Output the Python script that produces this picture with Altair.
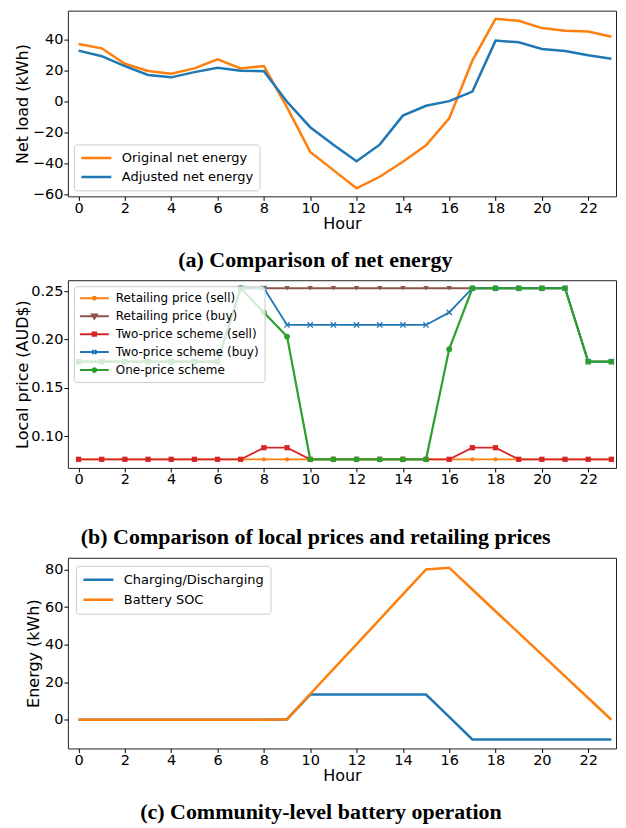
import altair as alt
import pandas as pd

# ---------------- data ----------------
hours = list(range(24))

net_names = ["Original net energy", "Adjusted net energy"]
original_net = [37.2, 34.4, 24.4, 19.7, 18.0, 21.4, 27.2, 21.4, 22.9, -3.9, -32.7, -44.5,
                -56.3, -48.8, -39.1, -28.4, -10.9, 26.5, 53.5, 52.2, 47.5, 45.8, 45.3, 41.9]
adjusted_net = [32.9, 29.3, 22.9, 17.1, 15.6, 19.0, 21.8, 19.9, 19.5, -0.2, -16.7, -28.0,
                -38.7, -28.0, -9.2, -2.8, 0.2, 6.4, 39.4, 38.3, 34.0, 32.7, 29.9, 27.6]

price_names = ["Retailing price (sell)", "Retailing price (buy)", "Two-price scheme (sell)",
               "Two-price scheme (buy)", "One-price scheme"]
retail_sell = [0.076, 0.076, 0.076, 0.076, 0.076, 0.076, 0.076, 0.076, 0.076, 0.076, 0.076, 0.076,
               0.076, 0.076, 0.076, 0.076, 0.076, 0.076, 0.076, 0.076, 0.076, 0.076, 0.076, 0.076]
retail_buy = [0.177, 0.177, 0.177, 0.177, 0.177, 0.177, 0.177, 0.253, 0.253, 0.253, 0.253, 0.253,
              0.253, 0.253, 0.253, 0.253, 0.253, 0.253, 0.253, 0.253, 0.253, 0.253, 0.177, 0.177]
two_sell = [0.076, 0.076, 0.076, 0.076, 0.076, 0.076, 0.076, 0.076, 0.088, 0.088, 0.076, 0.076,
            0.076, 0.076, 0.076, 0.076, 0.076, 0.088, 0.088, 0.076, 0.076, 0.076, 0.076, 0.076]
two_buy = [0.177, 0.177, 0.177, 0.177, 0.177, 0.177, 0.177, 0.253, 0.253, 0.215, 0.215, 0.215,
           0.215, 0.215, 0.215, 0.215, 0.228, 0.253, 0.253, 0.253, 0.253, 0.253, 0.177, 0.177]
one_price = [0.177, 0.177, 0.177, 0.177, 0.177, 0.177, 0.177, 0.253, 0.228, 0.203, 0.076, 0.076,
             0.076, 0.076, 0.076, 0.076, 0.190, 0.253, 0.253, 0.253, 0.253, 0.253, 0.177, 0.177]

bat_names = ["Charging/Discharging", "Battery SOC"]
charging = [0.0, 0.0, 0.0, 0.0, 0.0, 0.0, 0.0, 0.0, 0.0, 0.3, 13.4, 13.4,
            13.4, 13.4, 13.4, 13.4, 1.5, -10.5, -10.5, -10.5, -10.5, -10.5, -10.5, -10.5]
soc = [0.0, 0.0, 0.0, 0.0, 0.0, 0.0, 0.0, 0.0, 0.0, 0.3, 13.7, 27.0,
       40.2, 53.5, 66.8, 80.1, 81.0, 69.4, 57.8, 46.3, 34.7, 23.1, 11.6, 0.0]

x_tick_values = [0, 2, 4, 6, 8, 10, 12, 14, 16, 18, 20, 22]
y_ticks_a = [-60, -40, -20, 0, 20, 40]
y_ticks_b = [0.10, 0.15, 0.20, 0.25]
y_ticks_c = [0, 20, 40, 60, 80]

# ---------------- style ----------------
ORANGE, BLUE, GREEN, RED, BROWN = "#ff7f0e", "#1f77b4", "#2ca02c", "#d62728", "#8c564b"
price_colors = [ORANGE, BROWN, RED, BLUE, GREEN]
point_shapes = ["circle", "triangle-down", "square", "M-1,-1L1,1M-1,1L1,-1", "circle"]
point_sizes = [18, 28, 28, 28, 34]
legend_shapes = [
    "M-1,0H1M0.1,0A0.1,0.1,0,1,1,-0.1,0A0.1,0.1,0,1,1,0.1,0Z",
    "M-1,0H1M-0.17,-0.12L0.17,-0.12L0,0.16Z",
    "M-1,0H1M-0.12,-0.12H0.12V0.12H-0.12Z",
    "M-1,0H1M-0.14,-0.14L0.14,0.14M-0.14,0.14L0.14,-0.14",
    "M-1,0H1M0.13,0A0.13,0.13,0,1,1,-0.13,0A0.13,0.13,0,1,1,0.13,0Z",
]

X_DOMAIN = [-0.46, 23.2]
FONT = "DejaVu Sans"
TITLE_FONT = "Liberation Serif"
PANEL_W = 549


def x_enc(title, **kw):
    return alt.X("hour:Q", scale=alt.Scale(domain=X_DOMAIN, nice=False, zero=False),
                 axis=alt.Axis(values=x_tick_values, title=title, format="d", **kw))


def legend(orient, offset, font_size, clip, extra=None):
    params = dict(title=None, orient=orient, offset=offset, fillColor="rgba(255,255,255,0.8)",
                  strokeColor="#cccccc", cornerRadius=3, padding=6, symbolSize=900,
                  labelFontSize=font_size, labelFont=FONT, labelColor="black", labelOffset=9,
                  clipHeight=clip, rowPadding=4)
    if extra:
        params.update(extra)
    return alt.Legend(**params)


def panel_title(text, offset):
    return alt.TitleParams(text=text, orient="bottom", anchor="middle", frame="bounds",
                           font=TITLE_FONT, fontWeight="bold", fontSize=22, color="black",
                           offset=offset)


# ---------------- panel (a) ----------------
df_a = pd.DataFrame({
    "hour": hours + hours,
    "value": original_net + adjusted_net,
    "series": [net_names[0]] * 24 + [net_names[1]] * 24,
})
chart_a = alt.Chart(df_a).mark_line(strokeWidth=2.5).encode(
    x=x_enc("Hour"),
    y=alt.Y("value:Q", scale=alt.Scale(domain=[-61.5, 58.8], nice=False, zero=False),
            axis=alt.Axis(values=y_ticks_a, title="Net load (kWh)", format="d", titlePadding=2)),
    color=alt.Color("series:N", scale=alt.Scale(domain=net_names, range=[ORANGE, BLUE]),
                    legend=legend("bottom-left", 6, 13, 15,
                                  dict(symbolType="stroke", symbolStrokeWidth=2.5))),
).properties(width=PANEL_W, height=186, title=panel_title("(a) Comparison of net energy", 18))

# ---------------- panel (b) ----------------
price_series = [retail_sell, retail_buy, two_sell, two_buy, one_price]
rows = []
for name, vals in zip(price_names, price_series):
    for h, v in zip(hours, vals):
        rows.append({"hour": h, "value": v, "series": name})
df_b = pd.DataFrame(rows)

y_b = alt.Y("value:Q", scale=alt.Scale(domain=[0.0671, 0.2613], nice=False, zero=False),
            axis=alt.Axis(values=y_ticks_b, title="Local price (AUD$)", format=".2f",
                          titlePadding=0))

layers_b = []
for i, name in enumerate(price_names):
    base = alt.Chart(df_b).transform_filter(alt.datum.series == name)
    lw = 2.2 if i == 4 else 1.8
    col = price_colors[i]
    layers_b.append(base.mark_line(strokeWidth=lw, color=col).encode(x=x_enc(None), y=y_b))
    is_x = i == 3
    layers_b.append(base.mark_point(filled=not is_x, shape=point_shapes[i], size=point_sizes[i],
                                    color=col, strokeWidth=1.3 if is_x else 0, opacity=1).encode(
        x=x_enc(None), y=y_b))

leg_b = legend("top-left", 6, 12, 14, dict(symbolStrokeWidth=2, symbolFillColor="transparent",
                                             symbolOpacity=1, symbolSize=841, padding=5,
                                             labelOffset=6))
legend_layer = alt.Chart(df_b).mark_point(filled=False, strokeWidth=2, opacity=0).encode(
    x=x_enc(None), y=y_b,
    color=alt.Color("series:N", scale=alt.Scale(domain=price_names, range=price_colors),
                    legend=leg_b),
    shape=alt.Shape("series:N", scale=alt.Scale(domain=price_names, range=legend_shapes),
                    legend=leg_b),
)
layers_b.append(legend_layer)
chart_b = alt.layer(*layers_b).properties(
    width=PANEL_W, height=188,
    title=panel_title("(b) Comparison of local prices and retailing prices", 41))

# ---------------- panel (c) ----------------
df_c = pd.DataFrame({
    "hour": hours + hours,
    "value": charging + soc,
    "series": [bat_names[0]] * 24 + [bat_names[1]] * 24,
})
chart_c = alt.Chart(df_c).mark_line(strokeWidth=2.5).encode(
    x=x_enc("Hour"),
    y=alt.Y("value:Q", scale=alt.Scale(domain=[-15.3, 86.3], nice=False, zero=False),
            axis=alt.Axis(values=y_ticks_c, title="Energy (kWh)", format="d", titlePadding=3)),
    color=alt.Color("series:N", scale=alt.Scale(domain=bat_names, range=[BLUE, ORANGE]),
                    legend=legend("top-left", 8, 13, 16,
                                  dict(symbolType="stroke", symbolStrokeWidth=2.5))),
).properties(width=PANEL_W, height=191,
             title=panel_title("(c) Community-level battery operation", 18))

chart = alt.vconcat(chart_a, chart_b, chart_c, spacing=8).resolve_scale(
    x="independent", y="independent", color="independent", shape="independent",
).resolve_legend(
    color="independent", shape="independent",
).properties(
    padding={"left": 5, "top": 1, "right": 0, "bottom": 0},
    background="white",
).configure_view(stroke="#222222", strokeWidth=1).configure_axis(
    domain=False, grid=False, ticks=True, tickSize=4, tickColor="black", tickWidth=1,
    labelFont=FONT, labelFontSize=14.5, labelColor="black", labelPadding=1,
    titleFont=FONT, titleFontSize=16, titleFontWeight="normal", titleColor="black",
).configure_axisX(titlePadding=1)

chart.save("out.html", embed_options={"renderer": "svg", "actions": False})
